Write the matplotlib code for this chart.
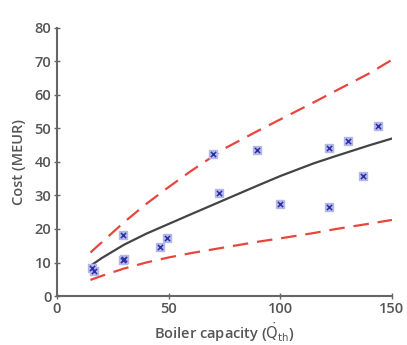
import matplotlib.pyplot as plt

plt.rcParams['font.family'] = ['Open Sans', 'DejaVu Sans']

# observed boiler projects (capacity, cost)
capacity = [15.5, 16.5, 29.7, 29.7, 30.0, 46.3, 49.4, 69.7, 72.5, 89.7, 99.9, 121.8, 121.8, 130.1, 137.0, 143.6]
cost = [8.3, 7.6, 18.2, 10.6, 11.1, 14.7, 17.2, 42.3, 30.8, 43.6, 27.6, 44.1, 26.7, 46.3, 35.8, 50.7]

# fitted curve and band
curve_x = [15, 20, 30, 40, 50, 60, 75, 90, 100, 115, 125, 140, 150]
fit_y = [9.0, 11.3, 15.3, 18.6, 21.5, 24.4, 28.7, 33.0, 35.8, 39.6, 41.8, 45.0, 47.0]
upper_y = [13.0, 16.0, 22.0, 27.5, 32.5, 37.3, 44.0, 49.3, 52.7, 57.8, 61.3, 66.5, 70.5]
lower_y = [4.8, 6.0, 8.2, 10.0, 11.5, 12.8, 14.5, 16.2, 17.2, 18.8, 20.0, 21.6, 22.7]

fig = plt.figure(figsize=(4.07, 3.45), dpi=100)
ax = fig.add_axes([0.140, 0.142, 0.823, 0.777])

ax.plot(curve_x, upper_y, color='#e8453c', lw=1.6, dashes=(7, 4))
ax.plot(curve_x, lower_y, color='#e8453c', lw=1.6, dashes=(7, 4))
ax.plot(curve_x, fit_y, color='#444444', lw=1.6)
ax.scatter(capacity, cost, marker='s', s=36, color='#b5b8e6', zorder=3)
ax.scatter(capacity, cost, marker='x', s=14, color='#2b2fa8', lw=1.1, zorder=4)

ax.set_xlim(0, 150)
ax.set_ylim(0, 80)
ax.set_xticks([0, 50, 100, 150])
ax.set_yticks(range(0, 81, 10))
for side in ['top', 'right']:
    ax.spines[side].set_visible(False)
for side in ['left', 'bottom']:
    ax.spines[side].set_color('#666666')
    ax.spines[side].set_linewidth(1.5)
ax.tick_params(direction='inout', length=4, width=1, color='#666666',
               labelsize=10.5, labelcolor='#555555', pad=2)
for lab in ax.get_xticklabels() + ax.get_yticklabels():
    lab.set_fontweight('semibold')
ax.set_xlabel(r'Boiler capacity ($\dot{\mathrm{Q}}_{\mathrm{th}}$)', fontsize=10.5,
              color='#555555', labelpad=3, fontweight='semibold')
ax.set_ylabel('Cost (MEUR)', fontsize=10.5, color='#555555', labelpad=6,
              fontweight='semibold')

fig.savefig('out.png', dpi=100)
